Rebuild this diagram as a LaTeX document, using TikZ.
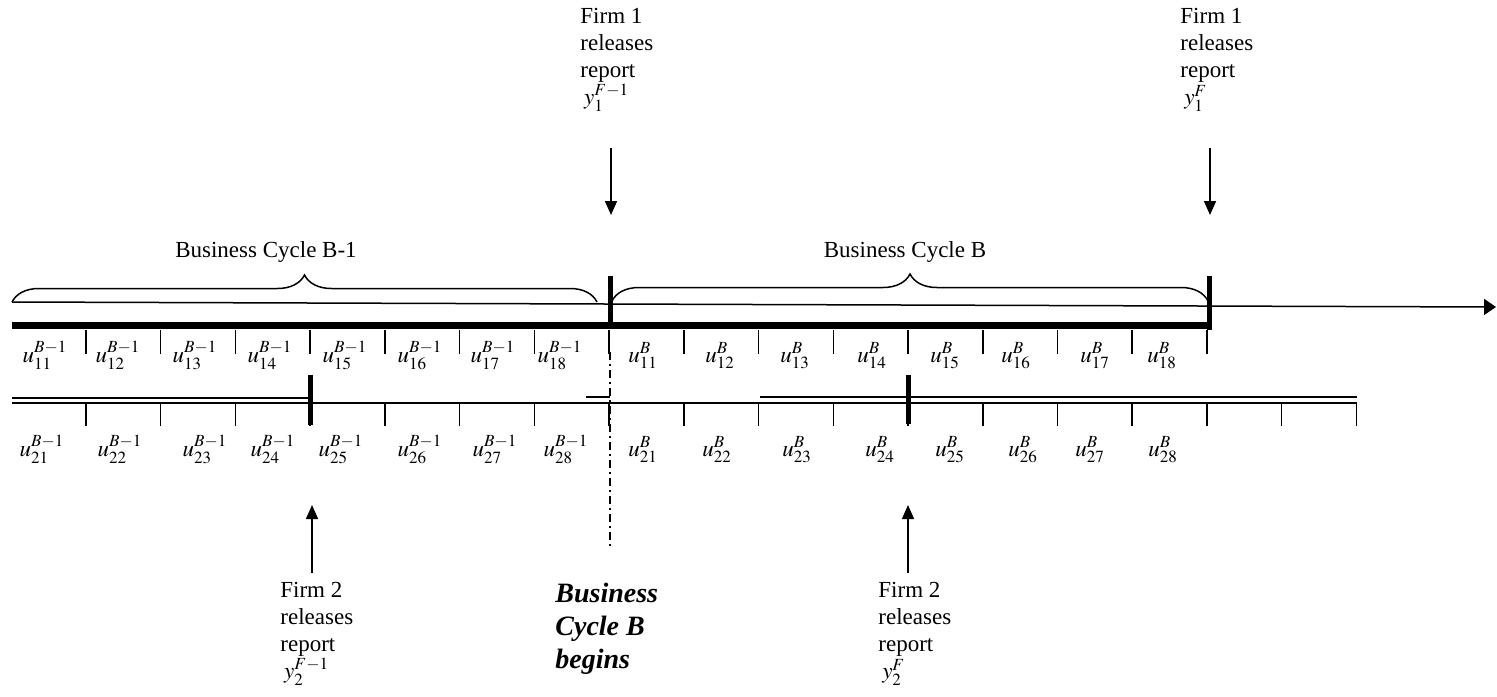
\documentclass[tikz,border=0pt]{standalone}
\usepackage{mathptmx}
\usepackage{fontspec}
\setmainfont{Liberation Serif}
\usetikzlibrary{arrows.meta,decorations.pathreplacing}

\begin{document}
\begin{tikzpicture}[x=0.5pt,y=-0.5pt, every node/.style={font=\fontsize{11.5}{13.5}\selectfont,inner sep=0pt}, note/.style={align=left,anchor=north west}, cell/.style={anchor=base}, tick/.style={line width=0.75pt}, bar/.style={line width=2.5pt}, thin/.style={line width=0.75pt}, pointer/.style={line width=0.75pt,-{Triangle[length=7pt,width=6pt]}}, cycbrace/.style={decorate,decoration={brace,amplitude=13.5pt},line width=0.75pt}]
\useasboundingbox (0,0) rectangle (1497,696);
% report dates
\node[note] (f1prev) at (580,8) {Firm 1\\releases\\report\\\,$y_1^{F-1}$};
\node[note] (f1now) at (1180,8) {Firm 1\\releases\\report\\\,$y_1^{F}$};
\node[note] (f2prev) at (280,582) {Firm 2\\releases\\report\\\,$y_2^{F-1}$};
\node[note] (f2now) at (878,582) {Firm 2\\releases\\report\\\,$y_2^{F}$};
\node[note,font=\fontsize{14}{16.5}\selectfont\bfseries\itshape] (begins) at (555,583) {Business\\Cycle B\\begins};
\coordinate (f1prevarr) at (611,148);
\coordinate (f1nowarr) at (1210,148);
\coordinate (f2prevarr) at (312,573);
\coordinate (f2nowarr) at (908,573);
\draw[pointer] (f1prevarr) -- ++(0,67);
\draw[pointer] (f1nowarr) -- ++(0,67);
\draw[pointer] (f2prevarr) -- ++(0,-68);
\draw[pointer] (f2nowarr) -- ++(0,-68);
% firm 1 time line
\draw[line width=3.75pt] (12,325.5) -- (1211,325.5);
\draw[bar] (610.5,276) -- (610.5,327);
\draw[bar] (1209.5,276) -- (1209.5,330);
\draw[thin,-{Triangle[length=6pt,width=8pt]}] (12,302) -- (1496,307);
\draw[cycbrace] (12,302) -- (597,302);
\draw[cycbrace] (612,301) -- (1208,301);
\node[cell] (cycprev) at (266,257) {Business Cycle B-1};
\node[cell] (cycnow) at (905,257) {Business Cycle B};
\foreach \k in {0,...,15} \draw[tick] ({86+74.73*\k},330) -- ++(0,24);
% firm 2 time line
\draw[thin] (12,403) -- (1357,403);
\draw[thin] (12,398) -- (310,398);
\draw[line width=1.2pt] (586,397) -- (610,397);
\draw[line width=1pt] (760,397) -- (1357,397);
\foreach \k in {0,...,17} \draw[tick] ({86+74.73*\k},403) -- ++(0,23);
\draw[bar] (310,375) -- (310,425);
\draw[bar] (908,375) -- (908,424);
\draw[thin,dash pattern=on 4pt off 2pt on 1pt off 2pt] (610,352) -- (610,548);
% periods
\foreach \x [count=\i] in {45,118,195,270,345,420,493,560} \node[cell] (ua\i) at (\x,362) {$u_{1\i}^{B-1}$};
\foreach \x [count=\i] in {643,720,795,872,945,1016,1095,1162} \node[cell] (ub\i) at (\x,362) {$u_{1\i}^{B}$};
\foreach \x [count=\i] in {42,120,205,273,341,420,495,566} \node[cell] (va\i) at (\x,456) {$u_{2\i}^{B-1}$};
\foreach \x [count=\i] in {643,717,797,880,950,1023,1090,1163} \node[cell] (vb\i) at (\x,456) {$u_{2\i}^{B}$};
\end{tikzpicture}
\end{document}
